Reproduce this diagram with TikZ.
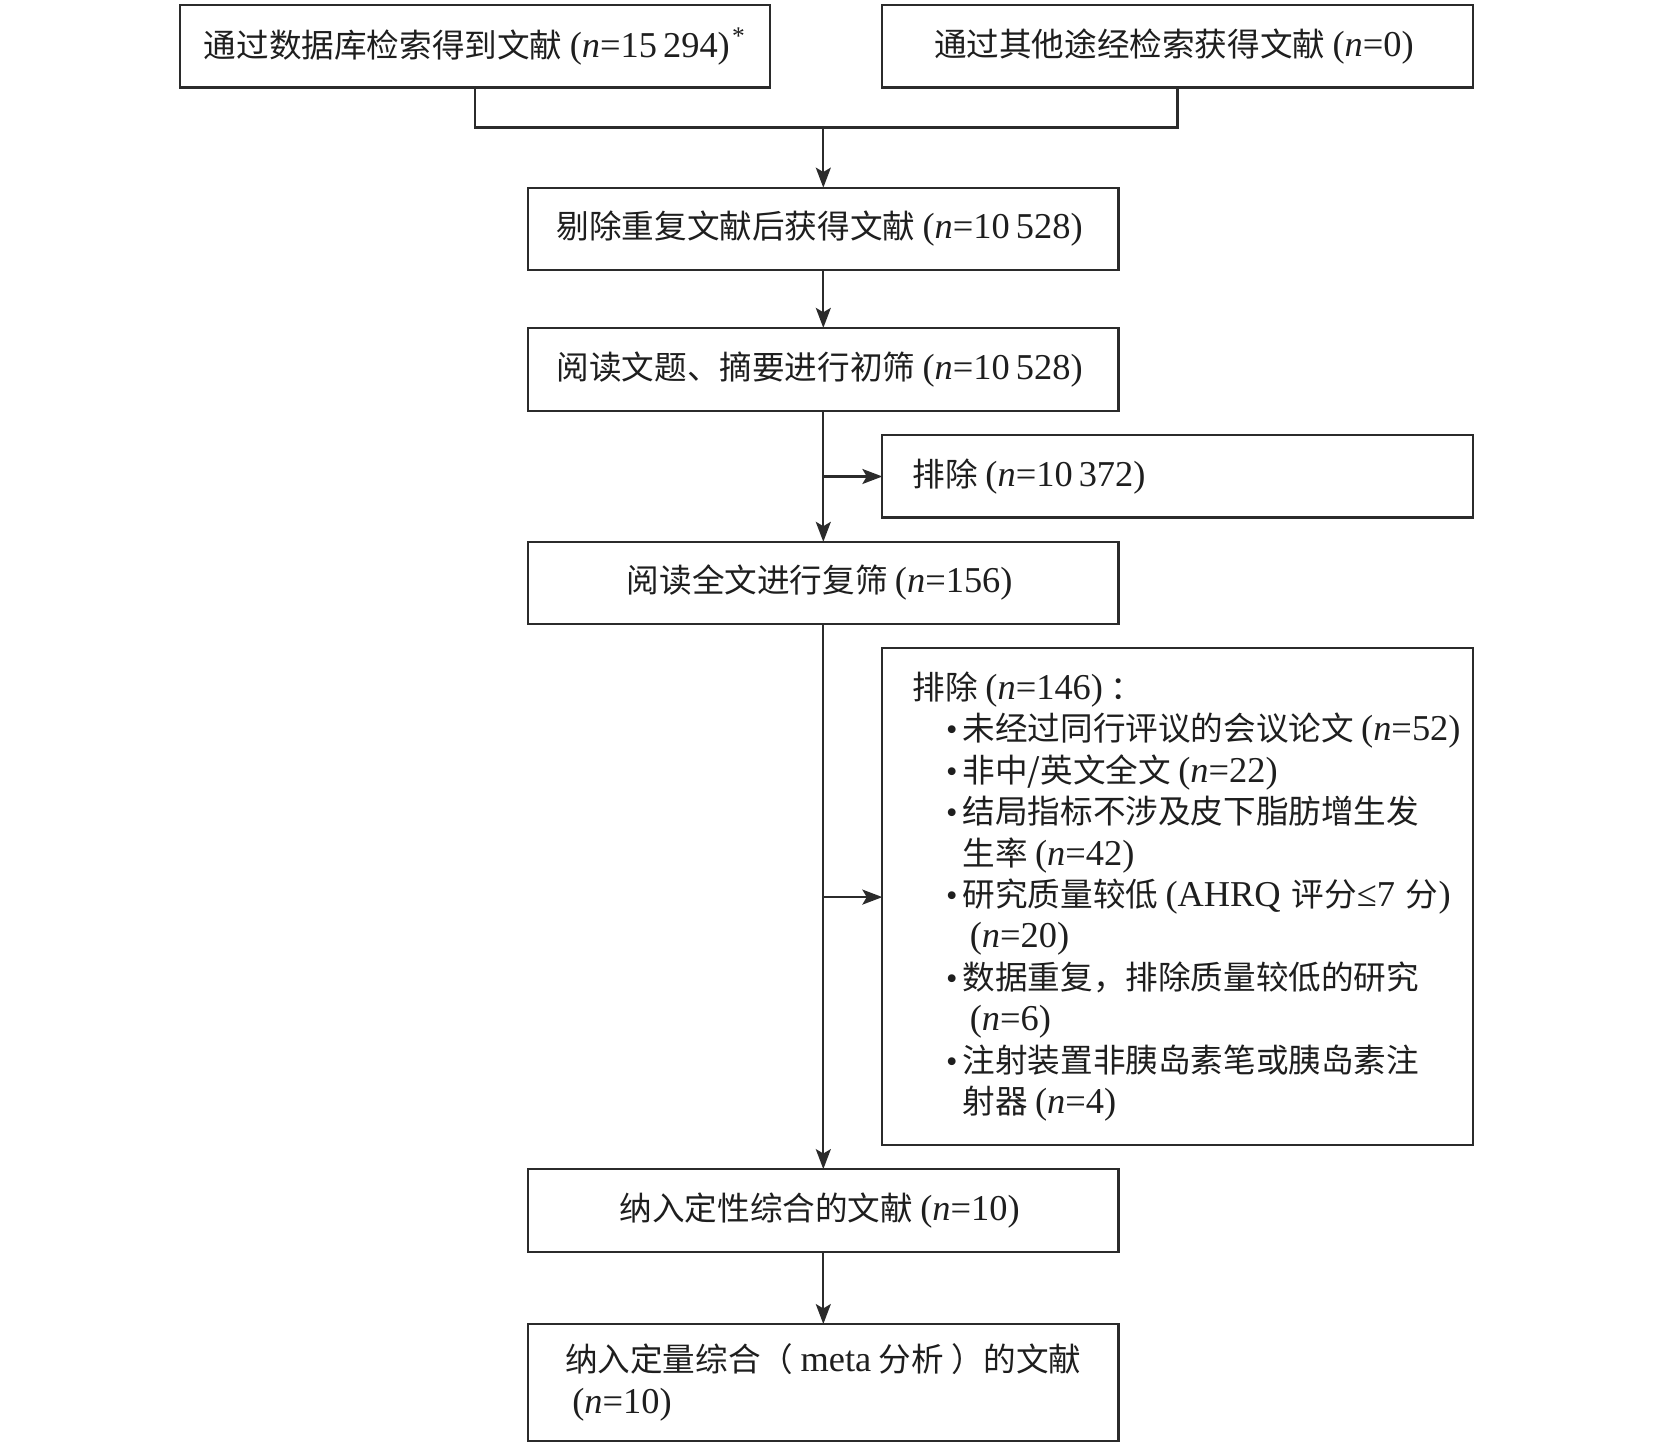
\documentclass[tikz,border=0pt]{standalone}
\usepackage{fontspec}
\setmainfont{Liberation Serif}
\newfontfamily\cjk{Noto Sans CJK SC}
\usetikzlibrary{arrows.meta}
\definecolor{linec}{HTML}{2B2B2B}
\definecolor{txtc}{HTML}{1E1E1E}
\newcommand\lat{\rmfamily\fontsize{18.2}{20.7}\selectfont}
\newcommand\lp{{\lat\kern0.2em(}}
\newcommand\rp{{\lat)\kern0.2em}}
\newcommand\nval[1]{\lp{\lat\textit{n}=#1}\rp}
\newcommand\bitem{\hspace*{24.8pt}\llap{{\rmfamily\textbullet}\kern2.5pt}}
\newcommand\indentc{\hspace*{24.8pt}}
\newcommand\oneline[1]{\mbox{#1}}
\begin{document}
\begin{tikzpicture}[x=0.527pt,y=-0.527pt,
  box/.style={draw=linec, line width=1.1pt, minimum width=295.1pt, minimum height=41.1pt,
    inner sep=0pt, outer sep=0pt, font=\cjk\fontsize{16.3}{20.7}\selectfont, text=txtc},
  leftbox/.style={box, text width=264.5pt, inner xsep=15.3pt, align=left},
  conn/.style={draw=linec, line width=1.1pt},
  arr/.style={conn, -{Stealth[length=10pt,width=7.5pt,inset=2.2pt]}}]
\path[use as bounding box] (0,0) rectangle (1569,1370);

\node[box] (A) at (450.5,44) {通过数据库检索得到文献\nval{15\,294}\kern-0.15em{\lat\textsuperscript{*}}};
\node[box] (B) at (1117,44) {通过其他途经检索获得文献\nval{0}};
\node[box] (C) at (781,217) {剔除重复文献后获得文献\nval{10\,528}};
\node[box, minimum height=41.6pt] (D) at (781,350.5) {阅读文题、摘要进行初筛\nval{10\,528}};
\node[leftbox] (X1) at (1117,452) {排除\nval{10\,372}};
\node[box] (E) at (781,553) {阅读全文进行复筛\nval{156}};
\node[leftbox, minimum height=248.2pt] (X2) at (1117,850.5) {%
\oneline{排除\nval{146}：}\\
\oneline{\bitem 未经过同行评议的会议论文\nval{52}}\\
\oneline{\bitem 非中/英文全文\nval{22}}\\
\oneline{\bitem 结局指标不涉及皮下脂肪增生发}\\
\oneline{\indentc 生率\nval{42}}\\
\oneline{\bitem 研究质量较低\lp{\lat AHRQ} 评分{\lat ≤7} 分\rp}\\
\oneline{\indentc\nval{20}}\\
\oneline{\bitem 数据重复，排除质量较低的研究}\\
\oneline{\indentc\nval{6}}\\
\oneline{\bitem 注射装置非胰岛素笔或胰岛素注}\\
\oneline{\indentc 射器\nval{4}}};
\node[box, minimum height=41.6pt] (F) at (781,1148.5) {纳入定性综合的文献\nval{10}};
\node[box, minimum height=58.5pt, align=left] (G) at (781,1311.5) {纳入定量综合（ {\lat meta} 分析 ）的文献\\\nval{10}};

\coordinate (jmid) at (781,121);
\coordinate (b1) at (781,452);
\coordinate (b2) at (781,851);

\draw[conn] (A.south) |- (jmid) -| (B.south);
\draw[arr] (jmid) -- (C.north);
\draw[arr] (C.south) -- (D.north);
\draw[arr] (D.south) -- (E.north);
\draw[arr] (b1) -- (X1.west);
\draw[arr] (E.south) -- (F.north);
\draw[arr] (b2) -- (X2.west |- b2);
\draw[arr] (F.south) -- (G.north);
\end{tikzpicture}
\end{document}
